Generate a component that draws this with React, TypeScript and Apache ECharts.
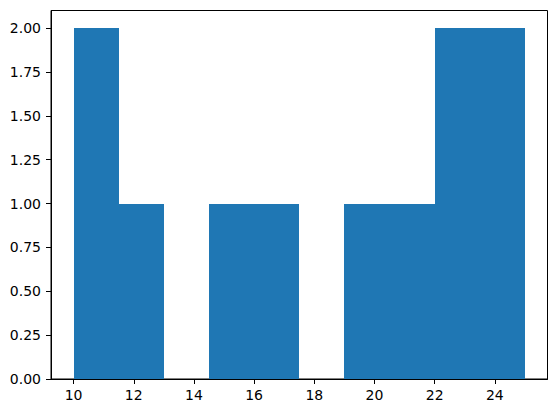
import React, { useEffect, useRef } from "react";
import * as echarts from "echarts";

const binEdges = [10, 11.5, 13, 14.5, 16, 17.5, 19, 20.5, 22, 23.5, 25];
const counts = [2, 1, 0, 1, 1, 0, 1, 1, 2, 2];
const xTicks = [10, 12, 14, 16, 18, 20, 22, 24];
const yTicks = [0, 0.25, 0.5, 0.75, 1.0, 1.25, 1.5, 1.75, 2.0];

export default function App() {
  const ref = useRef<HTMLDivElement>(null);
  useEffect(() => {
    if (!ref.current) return;
    const chart = echarts.init(ref.current, null, { renderer: "svg" });
    const data = counts.map((c, i) => [binEdges[i], binEdges[i + 1], c]);
    const font = "DejaVu Sans";
    chart.setOption({
      animation: false,
      grid: {
        left: 51,
        right: 8.5,
        top: 10.5,
        bottom: 34,
        show: true,
        borderColor: "#000",
        borderWidth: 1,
        backgroundColor: "transparent",
      },
      xAxis: {
        type: "value",
        min: 9.25,
        max: 25.75,
        splitLine: { show: false },
        axisLine: { show: true, onZero: false, lineStyle: { color: "#000", width: 1 } },
        axisTick: {
          show: true,
          customValues: xTicks,
          length: 5,
          lineStyle: { color: "#000", width: 1 },
        },
        axisLabel: {
          customValues: xTicks,
          color: "#000",
          fontFamily: font,
          fontSize: 14,
          margin: 9,
          formatter: (v: number) => String(v),
        },
      },
      yAxis: {
        type: "value",
        min: 0,
        max: 2.1,
        splitLine: { show: false },
        axisLine: { show: true, lineStyle: { color: "#000", width: 1 } },
        axisTick: {
          show: true,
          customValues: yTicks,
          length: 5,
          lineStyle: { color: "#000", width: 1 },
        },
        axisLabel: {
          customValues: yTicks,
          color: "#000",
          fontFamily: font,
          fontSize: 14,
          margin: 10,
          formatter: (v: number) => v.toFixed(2),
        },
      },
      series: [
        {
          type: "custom",
          data,
          encode: { x: [0, 1], y: 2 },
          z: 1,
          renderItem: (params: any, api: any) => {
            const x0 = api.value(0);
            const x1 = api.value(1);
            const h = api.value(2);
            const p0 = api.coord([x0, 0]);
            const p1 = api.coord([x1, h]);
            const left = Math.round(p0[0]);
            const right = Math.round(p1[0]);
            const top = Math.round(p1[1]);
            const bottom = Math.round(p0[1]);
            return {
              type: "rect",
              shape: { x: left, y: top, width: right - left, height: bottom - top },
              style: { fill: "#1f77b4" },
            };
          },
        },
      ],
    });
    return () => chart.dispose();
  }, []);
  return (
    <div
      ref={ref}
      style={{ position: "fixed", left: 0, top: 0, width: 556, height: 413, background: "#fff" }}
    />
  );
}
